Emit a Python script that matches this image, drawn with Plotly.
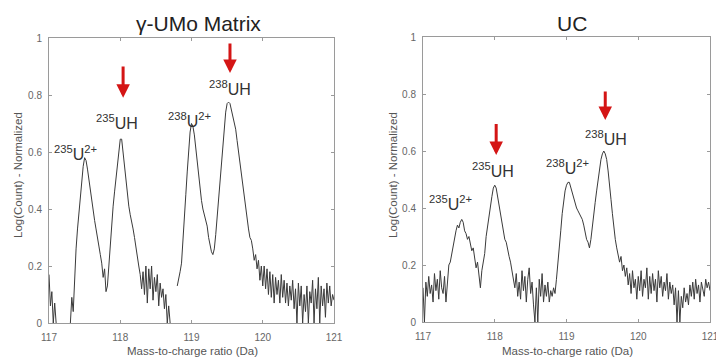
import numpy as np
import plotly.graph_objects as go

# m/z grid (Da), 0.02 Da bins
mz = np.round(np.linspace(117.0, 121.0, 201), 2)

# gamma-UMo matrix spectrum, Log(Count) normalized (None = empty bin)
umo_signal = [
    0.17, 0.06, 0.11, 0.0, 0.07, 0.0, None, None, None, None,
    None, None, None, None, None, 0.0, 0.09, 0.04, 0.17, 0.26,
    0.33, 0.39, 0.44, 0.49, 0.55, 0.58, 0.57, 0.54, 0.50, 0.46,
    0.42, 0.39, 0.36, 0.33, 0.29, 0.27, 0.24, 0.21, 0.16, 0.19,
    0.11, 0.13, 0.20, 0.28, 0.35, 0.41, 0.46, 0.51, 0.56, 0.61,
    0.645, 0.645, 0.60, 0.55, 0.49, 0.45, 0.41, 0.38, 0.36, 0.33,
    0.30, 0.26, 0.23, 0.20, 0.17, 0.12, 0.18, 0.10, 0.20, 0.07,
    0.19, 0.12, 0.20, 0.08, 0.16, 0.11, 0.17, 0.06, 0.14, 0.09,
    0.12, 0.05, 0.10, 0.0, 0.06, 0.0, None, None, None, None,
    0.13, 0.15, 0.18, 0.21, 0.28, 0.37, 0.45, 0.53, 0.61, 0.67,
    0.70, 0.69, 0.66, 0.61, 0.56, 0.51, 0.47, 0.43, 0.40, 0.38,
    0.36, 0.34, 0.30, 0.27, 0.25, 0.24, 0.26, 0.31, 0.37, 0.42,
    0.48, 0.56, 0.63, 0.69, 0.74, 0.77, 0.775, 0.77, 0.75, 0.73,
    0.71, 0.68, 0.64, 0.60, 0.56, 0.52, 0.47, 0.43, 0.39, 0.36,
    0.33, 0.30, 0.29, 0.26, 0.22, 0.24, 0.19, 0.22, 0.15, 0.20,
    0.13, 0.20, 0.12, 0.19, 0.10, 0.18, 0.09, 0.17, 0.07, 0.16,
    0.10, 0.15, 0.07, 0.17, 0.09, 0.15, 0.07, 0.14, 0.06, 0.13,
    0.08, 0.15, 0.05, 0.12, 0.0, 0.14, 0.06, 0.13, 0.0, 0.10,
    0.04, 0.13, 0.0, 0.11, 0.07, 0.15, 0.0, 0.12, 0.05, 0.16,
    0.0, 0.13, 0.06, 0.12, 0.02, 0.14, 0.07, 0.13, 0.06, 0.10,
    0.08,
]

# UC spectrum, Log(Count) normalized
uc_signal = [
    0.12, 0.0, 0.14, 0.09, 0.16, 0.10, 0.13, 0.07, 0.17, 0.11,
    0.15, 0.08, 0.18, 0.12, 0.10, 0.16, 0.07, 0.15, 0.20, 0.21,
    0.24, 0.27, 0.29, 0.32, 0.34, 0.33, 0.35, 0.36, 0.35, 0.32,
    0.31, 0.29, 0.30, 0.27, 0.25, 0.26, 0.22, 0.19, 0.21, 0.16,
    0.12, 0.18, 0.21, 0.24, 0.30, 0.34, 0.37, 0.41, 0.44, 0.47,
    0.48, 0.47, 0.44, 0.40, 0.37, 0.35, 0.32, 0.29, 0.28, 0.25,
    0.23, 0.21, 0.18, 0.15, 0.12, 0.17, 0.09, 0.14, 0.08, 0.18,
    0.11, 0.16, 0.07, 0.15, 0.19, 0.10, 0.14, 0.06, 0.0, 0.12,
    0.0, 0.15, 0.09, 0.17, 0.07, 0.13, 0.09, 0.14, 0.07, 0.11,
    0.09, 0.12, 0.10, 0.15, 0.20, 0.26, 0.32, 0.38, 0.43, 0.46,
    0.48, 0.49, 0.49, 0.47, 0.45, 0.43, 0.42, 0.40, 0.39, 0.38,
    0.37, 0.36, 0.34, 0.31, 0.29, 0.28, 0.26, 0.29, 0.34, 0.39,
    0.42, 0.46, 0.50, 0.54, 0.57, 0.59, 0.60, 0.59, 0.57, 0.53,
    0.49, 0.43, 0.38, 0.33, 0.29, 0.26, 0.24, 0.21, 0.23, 0.18,
    0.20, 0.16, 0.19, 0.13, 0.17, 0.10, 0.18, 0.12, 0.15, 0.08,
    0.16, 0.11, 0.18, 0.09, 0.15, 0.12, 0.19, 0.08, 0.16, 0.10,
    0.17, 0.11, 0.15, 0.07, 0.18, 0.12, 0.16, 0.09, 0.14, 0.11,
    0.17, 0.08, 0.14, 0.10, 0.13, 0.06, 0.12, 0.0, 0.11, 0.0,
    0.09, 0.05, 0.12, 0.07, 0.10, 0.06, 0.13, 0.09, 0.14, 0.08,
    0.15, 0.10, 0.13, 0.07, 0.14, 0.11, 0.09, 0.15, 0.12, 0.14,
    0.11,
]

panel_titles = ["γ-UMo Matrix", "UC"]
x_ticks = [117, 118, 119, 120, 121]
y_ticks = [0, 0.2, 0.4, 0.6, 0.8, 1]
x_label = "Mass-to-charge ratio (Da)"
y_label = "Log(Count) - Normalized"

# peak labels: (text, m/z, level) per panel
umo_labels = [
    ("<sup>235</sup>U<sup>2+</sup>", 117.365, 0.596),
    ("<sup>235</sup>UH", 117.954, 0.705),
    ("<sup>238</sup>U<sup>2+</sup>", 118.965, 0.712),
    ("<sup>238</sup>UH", 119.54, 0.825),
]
uc_labels = [
    ("<sup>235</sup>U<sup>2+</sup>", 117.39, 0.418),
    ("<sup>235</sup>UH", 117.976, 0.533),
    ("<sup>238</sup>U<sup>2+</sup>", 119.007, 0.544),
    ("<sup>238</sup>UH", 119.55, 0.646),
]
# red arrows: (m/z, head level, tail level)
umo_arrows = [(118.04, 0.79, 0.905), (119.54, 0.877, 0.986)]
uc_arrows = [(118.02, 0.586, 0.70), (119.54, 0.709, 0.814)]

FONT = "Liberation Sans, Arial, sans-serif"
fig = go.Figure()
fig.add_trace(go.Scatter(x=mz, y=umo_signal, mode="lines", xaxis="x", yaxis="y",
                         line=dict(color="#3a3a3a", width=1), connectgaps=False,
                         showlegend=False, hoverinfo="skip"))
fig.add_trace(go.Scatter(x=mz, y=uc_signal, mode="lines", xaxis="x2", yaxis="y2",
                         line=dict(color="#3a3a3a", width=1), connectgaps=False,
                         showlegend=False, hoverinfo="skip"))

axis_common = dict(showgrid=False, zeroline=False, showline=True, mirror="ticks",
                   automargin=False,
                   linecolor="#9a9a9a", linewidth=1, ticks="inside", ticklen=3,
                   tickcolor="#9a9a9a", tickfont=dict(family=FONT, size=10, color="#666"))
xa = dict(axis_common, range=[117, 121], tickvals=x_ticks, ticklabelstandoff=5,
          ticklabeloverflow="allow")
ya = dict(axis_common, range=[0, 1], tickvals=y_ticks, ticklabelstandoff=4)

fig.update_layout(
    template="none",
    width=716, height=358, autosize=False,
    margin=dict(l=0, r=0, t=0, b=0, pad=0),
    paper_bgcolor="white", plot_bgcolor="white", showlegend=False,
    xaxis=dict(xa, domain=[49 / 716, 334 / 716], anchor="y"),
    yaxis=dict(ya, domain=[35 / 358, 320 / 358], anchor="x"),
    xaxis2=dict(xa, domain=[423 / 716, 710 / 716], anchor="y2"),
    yaxis2=dict(ya, domain=[36 / 358, 321 / 358], anchor="x2"),
)

anns = []
title_pos = [(198 / 716, 1 - 23 / 358), (572 / 716, 1 - 23 / 358)]
for t, (px, py) in zip(panel_titles, title_pos):
    anns.append(dict(text=t, x=px, y=py, xref="paper", yref="paper", showarrow=False,
                     xanchor="center", yanchor="middle",
                     font=dict(family=FONT, size=21, color="#222")))
for cx in (192 / 716, 567 / 716):
    anns.append(dict(text=x_label, x=cx, y=1 - 351 / 358, xref="paper", yref="paper",
                     showarrow=False, xanchor="center", yanchor="middle",
                     font=dict(family=FONT, size=11.5, color="#555")))
for cx in (18 / 716, 393 / 716):
    anns.append(dict(text=y_label, x=cx, y=1 - 175 / 358, xref="paper", yref="paper",
                     showarrow=False, xanchor="center", yanchor="middle", textangle=-90,
                     font=dict(family=FONT, size=11.5, color="#555")))

for labels, arrows, xr, yr in ((umo_labels, umo_arrows, "x", "y"),
                               (uc_labels, uc_arrows, "x2", "y2")):
    for txt, lx, ly in labels:
        anns.append(dict(text=txt, x=lx, y=ly, xref=xr, yref=yr, showarrow=False,
                         xanchor="center", yanchor="middle",
                         font=dict(family=FONT, size=16, color="#333")))
    for ax_, head, tail in arrows:
        anns.append(dict(text="", x=ax_, y=head, ax=ax_, ay=tail, xref=xr, yref=yr,
                         axref=xr, ayref=yr, showarrow=True, arrowhead=2, arrowsize=0.9,
                         arrowwidth=3, arrowcolor="#d41515"))

fig.update_layout(annotations=anns)
fig.write_html("out.html", config={"displayModeBar": False},
               post_script="document.body.style.margin='0px';"
                           "document.body.style.overflow='hidden';")
